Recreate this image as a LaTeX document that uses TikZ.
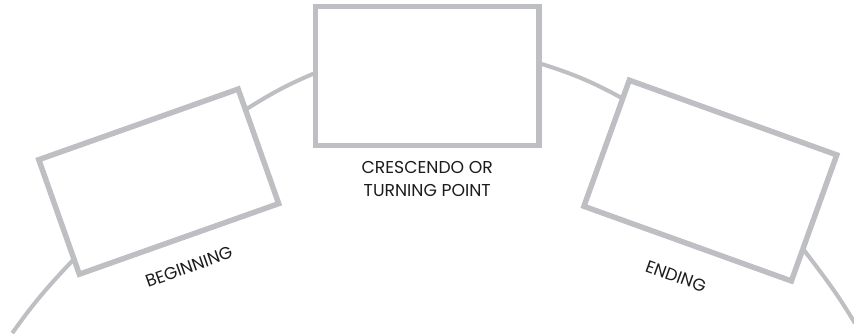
\documentclass[tikz,border=0pt]{standalone}
\usepackage{fontspec}
\setmainfont{Poppins}
\usepackage{xcolor}
\usepackage{tikz}
\usetikzlibrary{
  positioning,
  calc
}
\definecolor{xframe}{RGB}{190,191,194}
\definecolor{xink}{RGB}{30,27,28}

\begin{document}
\begin{tikzpicture}[
  panel/.style={
    draw=xframe, fill=white, line width=3.1pt,
    inner sep=0pt
  },
  arc/.style={draw=xframe, line width=2.3pt,
              shorten <=-1pt, shorten >=-1pt},
  caption/.style={font=\fontsize{9.8}{13}\selectfont, text=xink,
                  align=center, inner sep=0pt}
]
  \useasboundingbox (0,0) rectangle (17.08,6.7);

  \node[panel, minimum width=4.23cm, minimum height=2.43cm, rotate=19.5]
    (beginning) at (3.175,3.067) {};
  \node[panel, minimum width=4.47cm, minimum height=2.77cm]
    (crest) at (8.544,5.18) {};
  \node[panel, minimum width=4.41cm, minimum height=2.68cm, rotate=-19.8]
    (ending) at (14.207,3.088) {};

  \coordinate (arcL) at (0.266,0.066);
  \coordinate (arcR) at (17.08,0.266);

  \draw[arc] (arcL) to[out=54.6,in=226.6] (beginning.203);
  \foreach \from/\to/\o/\i in {beginning.20/crest.179/32/203,
                               crest.6/ending.157/-17.6/151.4}
    \draw[arc] (\from) to[out=\o,in=\i] (\to);
  \draw[arc] (ending.343) to[out=-52.8,in=120.9] (arcR);

  \node[caption, below=0.26cm of crest] (crestlbl) {CRESCENDO OR\\TURNING POINT};
  \node[caption, rotate=19.5] (beginlbl)
    at ($(beginning.south)!-0.54cm!(beginning.center)$) {BEGINNING};
  \node[caption, rotate=-19.8] (endlbl)
    at ($(ending.south)!-0.64cm!(ending.center)$) {ENDING};
\end{tikzpicture}
\end{document}
